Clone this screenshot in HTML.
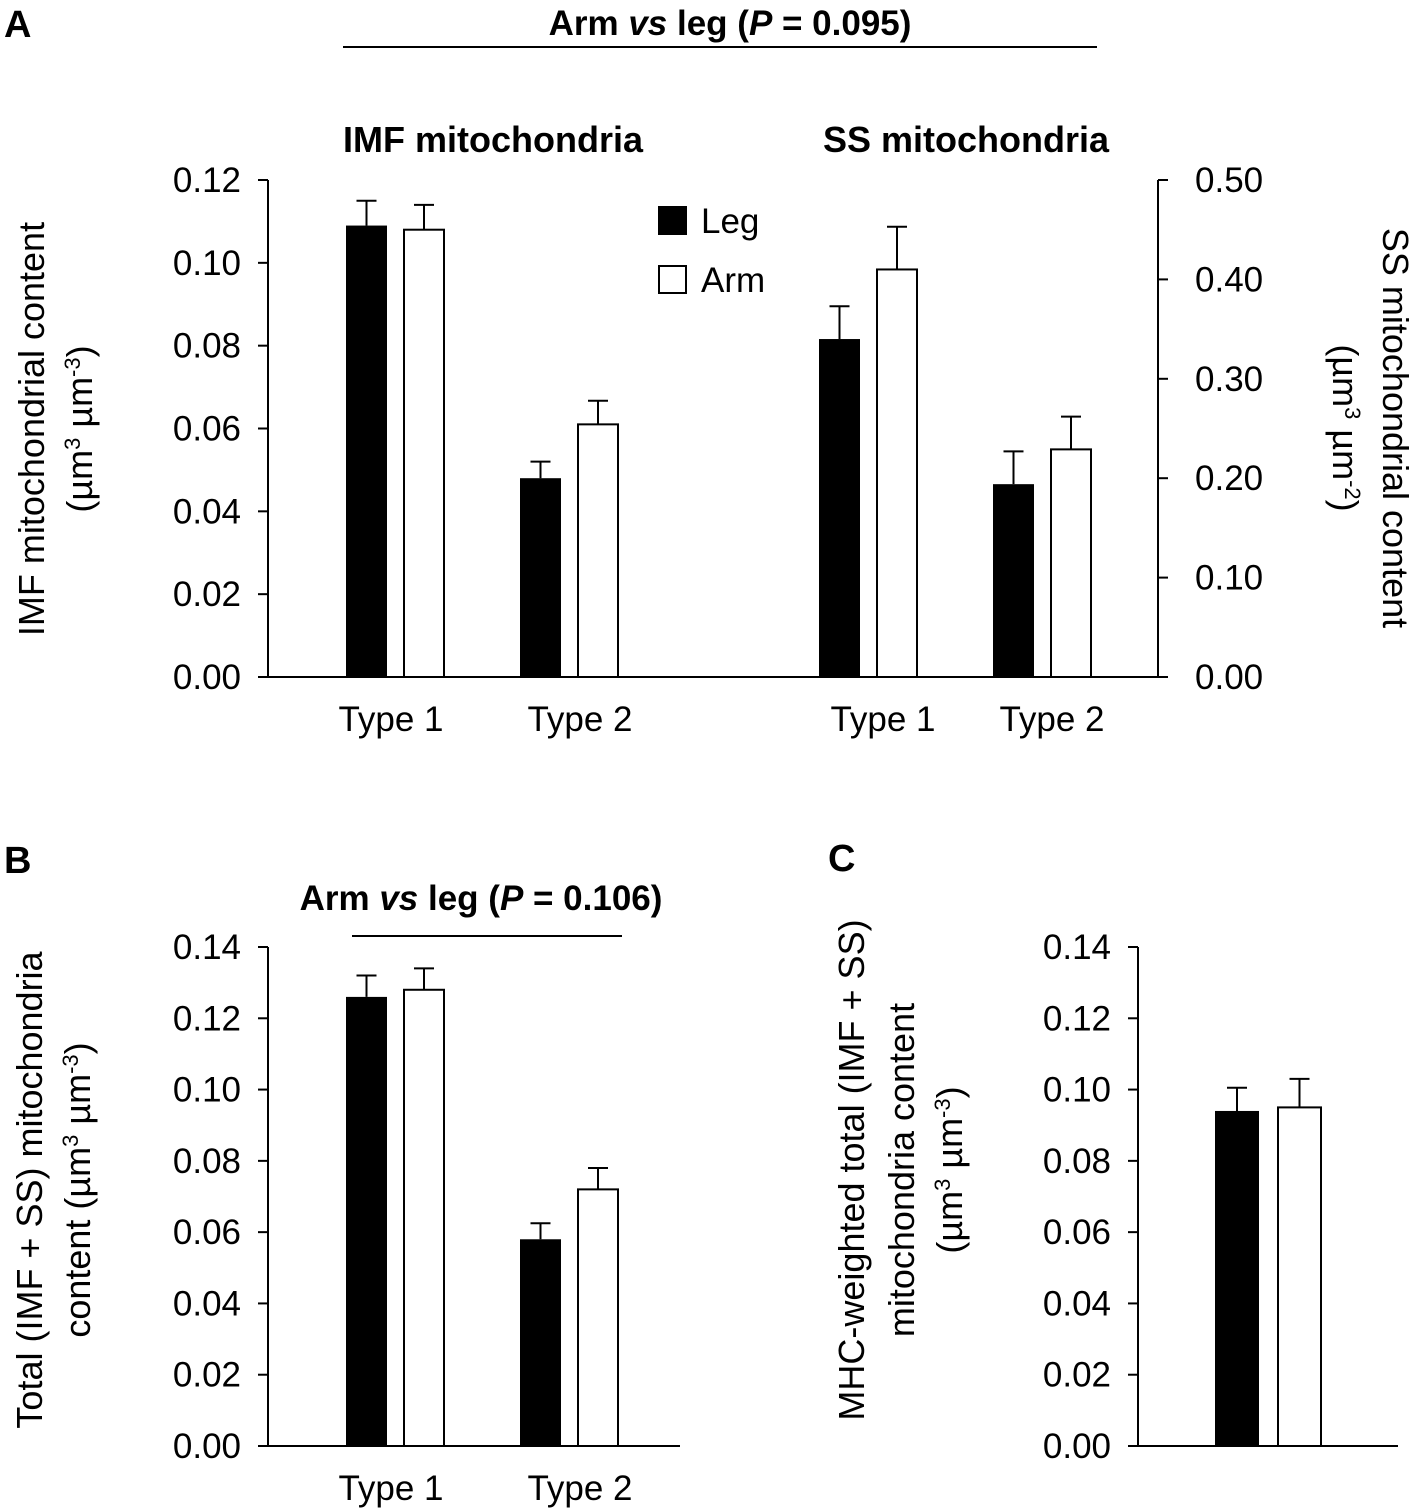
<!DOCTYPE html>
<html><head><meta charset="utf-8">
<style>
html,body{margin:0;padding:0;background:#fff;}
svg{display:block;font-family:"Liberation Sans",sans-serif;}
</style></head>
<body>
<svg id="fig" width="1423" height="1511" viewBox="0 0 1423 1511" xmlns="http://www.w3.org/2000/svg">
<g id="pa"></g>
<g id="pb"></g>
<g id="pc"></g>
<text x="4" y="37" font-size="38" font-weight="bold">A</text>
<text x="4" y="873" font-size="38" font-weight="bold">B</text>
<text x="828" y="871" font-size="38" font-weight="bold">C</text>
<text x="730" y="35" font-size="35" font-weight="bold" text-anchor="middle">Arm <tspan font-style="italic">vs</tspan> leg (<tspan font-style="italic">P</tspan> = 0.095)</text>
<line x1="343" y1="47" x2="1097" y2="47" stroke="#000" stroke-width="2"/>
<text x="493" y="152" font-size="36" font-weight="bold" text-anchor="middle">IMF mitochondria</text>
<text x="966" y="152" font-size="36" font-weight="bold" text-anchor="middle">SS mitochondria</text>
<text x="481" y="910" font-size="35" font-weight="bold" text-anchor="middle">Arm <tspan font-style="italic">vs</tspan> leg (<tspan font-style="italic">P</tspan> = 0.106)</text>
<line x1="352" y1="936" x2="622" y2="936" stroke="#000" stroke-width="2"/>
<g>
<rect x="658" y="206" width="29" height="29" fill="#000"/>
<text x="701" y="233" font-size="35">Leg</text>
<rect x="659" y="266" width="27" height="27" fill="#fff" stroke="#000" stroke-width="2"/>
<text x="701" y="292" font-size="35">Arm</text>
</g>
<g font-size="36">
<text transform="translate(44,429) rotate(-90)" text-anchor="middle">IMF mitochondrial content</text>
<text transform="translate(92,429) rotate(-90)" text-anchor="middle">(µm<tspan baseline-shift="super" font-size="22">3</tspan> µm<tspan baseline-shift="super" font-size="22">-3</tspan>)</text>
<text transform="translate(1383,428) rotate(90)" text-anchor="middle">SS mitochondrial content</text>
<text transform="translate(1333,428) rotate(90)" text-anchor="middle">(µm<tspan baseline-shift="super" font-size="22">3</tspan> µm<tspan baseline-shift="super" font-size="22">-2</tspan>)</text>
<text transform="translate(42,1190) rotate(-90)" text-anchor="middle">Total (IMF + SS) mitochondria</text>
<text transform="translate(90,1190) rotate(-90)" text-anchor="middle">content (µm<tspan baseline-shift="super" font-size="22">3</tspan> µm<tspan baseline-shift="super" font-size="22">-3</tspan>)</text>
<text transform="translate(864,1170) rotate(-90)" text-anchor="middle">MHC-weighted total (IMF + SS)</text>
<text transform="translate(914,1170) rotate(-90)" text-anchor="middle">mitochondria content</text>
<text transform="translate(962,1170) rotate(-90)" text-anchor="middle">(µm<tspan baseline-shift="super" font-size="22">3</tspan> µm<tspan baseline-shift="super" font-size="22">-3</tspan>)</text>
</g>
</svg>
<script>
// Panel A IMF
const imfLeg = [0.109, 0.048];
const imfLegErr = [0.115, 0.052];
const imfArm = [0.108, 0.061];
const imfArmErr = [0.114, 0.0667];
// Panel A SS
const ssLeg = [0.340, 0.194];
const ssLegErr = [0.373, 0.227];
const ssArm = [0.410, 0.229];
const ssArmErr = [0.453, 0.262];
const categoriesA = ["Type 1", "Type 2"];
const ticksLeftA = ["0.00","0.02","0.04","0.06","0.08","0.10","0.12"];
const ticksRightA = ["0.00","0.10","0.20","0.30","0.40","0.50"];
// Panel B
const totLeg = [0.126, 0.058];
const totLegErr = [0.132, 0.0625];
const totArm = [0.128, 0.072];
const totArmErr = [0.134, 0.078];
const ticksB = ["0.00","0.02","0.04","0.06","0.08","0.10","0.12","0.14"];
// Panel C
const mhcLeg = [0.094];
const mhcLegErr = [0.1005];
const mhcArm = [0.095];
const mhcArmErr = [0.103];

const NS = "http://www.w3.org/2000/svg";
function mk(parent, tag, attrs){ const e=document.createElementNS(NS,tag); for(const k in attrs) e.setAttribute(k,attrs[k]); parent.appendChild(e); return e; }
function scale(y0,y1,max){ return v => y0 - (v/max)*(y0-y1); }

function bar(g, x, w, v, err, ys, filled, name){
  const r = mk(g,'rect',{x:x, y:ys(v), width:w, height:ys(0)-ys(v), fill: filled?'#000':'#fff', stroke:'#000','stroke-width':filled?0:2});
  
  
  const cx = x + w/2;
  const l = mk(g,'path',{d:`M${cx},${ys(v)}V${ys(err)}M${cx-10},${ys(err)}H${cx+10}`, stroke:'#000','stroke-width':2, fill:'none'});
  
  
}
function yAxis(g, x, ys, ticks, step, side, name){
  const ax = mk(g,'line',{x1:x,y1:ys(0),x2:x,y2:ys(step*(ticks.length-1)),stroke:'#000','stroke-width':2});
  
  
  ticks.forEach((t,i)=>{
    const y = ys(step*i);
    mk(g,'line',{x1:x, x2: side<0? x-10 : x+10, y1:y, y2:y, stroke:'#000','stroke-width':2});
    const tx = mk(g,'text',{x: side<0? x-27 : x+37, y:y+12, 'font-size':35, 'text-anchor': side<0?'end':'start'});
    tx.textContent = t;
    
    
  });
}
function xLabel(g, x, y, t){
  const tx = mk(g,'text',{x:x, y:y, 'font-size':35, 'text-anchor':'middle'});
  tx.textContent = t;
  
  
}

// Panel A
const pa = document.getElementById('pa');
const ysI = scale(677,180,0.12), ysS = scale(677,180,0.5);
yAxis(pa, 268, ysI, ticksLeftA, 0.02, -1, 'imf-y-axis');
yAxis(pa, 1158, ysS, ticksRightA, 0.1, 1, 'ss-y-axis');
let xa = mk(pa,'line',{x1:268,x2:1158,y1:677,y2:677,stroke:'#000','stroke-width':2});
 
const imfX = [346, 520], ssX = [819, 993];
const imfLabelOff = [45, 60], ssLabelOff = [64, 59];
categoriesA.forEach((c,i)=>{
  bar(pa, imfX[i], 41, imfLeg[i], imfLegErr[i], ysI, true, 'imf-leg-bar');
  bar(pa, imfX[i]+58, 40, imfArm[i], imfArmErr[i], ysI, false, 'imf-arm-bar');
  bar(pa, ssX[i], 41, ssLeg[i], ssLegErr[i], ysS, true, 'ss-leg-bar');
  bar(pa, ssX[i]+58, 40, ssArm[i], ssArmErr[i], ysS, false, 'ss-arm-bar');
  xLabel(pa, imfX[i]+imfLabelOff[i], 731, c);
  xLabel(pa, ssX[i]+ssLabelOff[i], 731, c);
});
// Panel B
const pb = document.getElementById('pb');
const ysB = scale(1446,947,0.14);
yAxis(pb, 268, ysB, ticksB, 0.02, -1, 'panel-b-y-axis');
xa = mk(pb,'line',{x1:268,x2:680,y1:1446,y2:1446,stroke:'#000','stroke-width':2});
 
categoriesA.forEach((c,i)=>{
  bar(pb, imfX[i], 41, totLeg[i], totLegErr[i], ysB, true, 'total-leg-bar');
  bar(pb, imfX[i]+58, 40, totArm[i], totArmErr[i], ysB, false, 'total-arm-bar');
  xLabel(pb, imfX[i]+imfLabelOff[i], 1500, c);
});
// Panel C
const pc = document.getElementById('pc');
yAxis(pc, 1138, ysB, ticksB, 0.02, -1, 'panel-c-y-axis');
xa = mk(pc,'line',{x1:1138,x2:1398,y1:1446,y2:1446,stroke:'#000','stroke-width':2});
 
bar(pc, 1215, 44, mhcLeg[0], mhcLegErr[0], ysB, true, 'mhc-leg-bar');
bar(pc, 1278, 43, mhcArm[0], mhcArmErr[0], ysB, false, 'mhc-arm-bar');
</script>
</body></html>
